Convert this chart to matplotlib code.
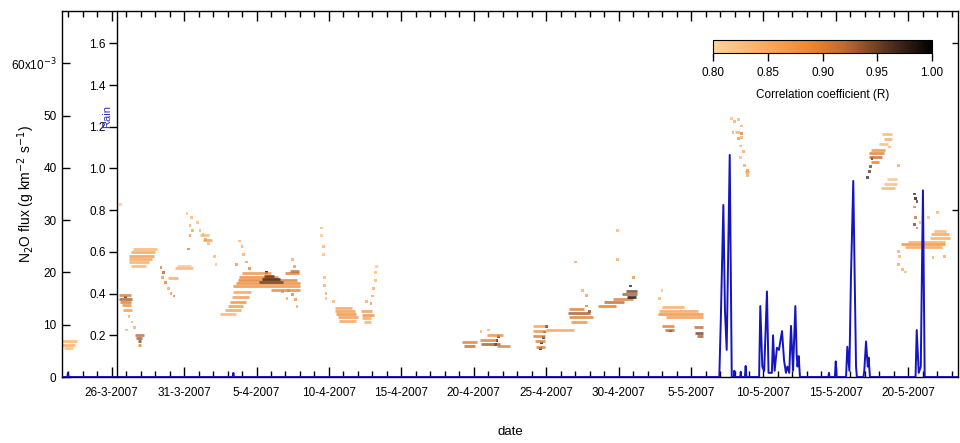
import numpy as np
import pandas as pd
import matplotlib
matplotlib.use('Agg')
import matplotlib.pyplot as plt
import matplotlib.dates as mdates
from matplotlib.collections import LineCollection
from matplotlib.colors import LinearSegmentedColormap, Normalize
from matplotlib.cm import ScalarMappable

plt.rcParams['font.family'] = ['Liberation Sans', 'DejaVu Sans']

# all times are days after 26-3-2007, flux in 1e-3 g km-2 s-1
t0 = pd.Timestamp('2007-03-26')

# horizontal streaks of the flux footprint (start, end, flux, R)
streak_start = [-3.4, -3.4, -3.3,
                0.5, 0.5, 0.6, 0.7, 0.8,
                1.6, 1.7, 1.8, 1.85,
                1.5, 1.3, 1.2, 1.2, 1.2, 1.3,
                3.9, 4.4, 4.5,
                6.1, 6.3,
                7.5, 7.8, 8.0, 8.2, 8.3, 8.4,
                8.4, 8.6, 8.7, 8.8, 9.0,
                10.2, 10.4, 10.5, 12.0, 12.3, 11.0,
                15.4, 15.4, 15.5, 15.6, 15.7,
                17.2, 17.3, 17.3, 17.4,
                24.2, 24.3, 25.4, 25.5, 25.9, 26.6,
                29.1, 29.1, 29.1, 29.2, 29.3, 30.0,
                31.6, 31.5, 31.6, 31.7,
                33.6, 34.0, 34.6, 35.2, 35.5, 35.6,
                37.7, 37.8, 38.0, 38.3, 38.0, 38.2,
                40.2, 40.3, 40.4,
                43.0, 43.7,
                53.2, 53.3, 53.0, 52.4, 52.3, 52.3, 52.4,
                53.1, 53.3, 53.5,
                54.5, 54.8, 55.0, 56.5, 56.6, 56.8]
streak_end = [-2.4, -2.5, -2.7,
              1.3, 1.4, 1.3, 1.3, 1.4,
              2.2, 2.1, 2.05, 2.0,
              3.1, 3.0, 2.9, 2.8, 2.6, 2.4,
              4.6, 5.6, 5.5,
              6.7, 6.9,
              8.6, 8.9, 9.1, 9.3, 9.5, 9.6,
              13.0, 13.0, 12.8, 11.5, 11.0,
              11.8, 11.6, 11.2, 12.9, 12.9, 13.0,
              16.6, 16.8, 16.9, 17.0, 16.9,
              18.0, 18.1, 17.9, 17.9,
              25.2, 25.1, 26.5, 26.8, 27.0, 27.5,
              29.9, 30.0, 29.9, 29.9, 29.9, 31.9,
              32.6, 33.0, 33.2, 32.8,
              34.8, 35.4, 36.0, 36.3, 36.3, 36.2,
              40.8, 40.5, 39.5, 40.8, 38.8, 38.8,
              40.8, 40.8, 40.8,
              43.4, 44.0,
              53.9, 53.9, 53.6, 53.4, 53.3, 53.2, 53.0,
              54.1, 54.2, 54.2,
              57.5, 57.3, 57.5, 57.9, 57.8, 57.6]
streak_flux = [6.8, 6.1, 5.5,
               15.7, 15.0, 14.4, 13.8, 12.8,
               8.0, 7.4, 6.8, 6.2,
               24.5, 23.9, 23.2, 22.6, 21.9, 21.3,
               18.9, 20.8, 21.3,
               27.2, 26.2,
               12.0, 12.8, 13.6, 14.4, 15.3, 16.2,
               17.4, 18.0, 18.6, 19.2, 19.8,
               18.2, 18.8, 19.3, 19.8, 20.3, 16.7,
               13.2, 12.6, 12.0, 11.4, 10.8,
               12.6, 11.9, 11.2, 10.6,
               6.6, 6.0, 7.0, 6.4, 8.0, 6.0,
               9.8, 8.8, 7.8, 6.8, 5.8, 8.9,
               13.0, 12.3, 11.5, 10.5,
               13.6, 14.3, 15.0, 15.8, 16.4, 15.3,
               12.0, 12.7, 13.3, 11.4, 9.8, 9.0,
               9.5, 8.5, 7.8,
               46.9, 39.2,
               46.5, 45.5, 44.6, 43.5, 42.8, 42.0, 41.2,
               36.2, 37.0, 37.8,
               25.4, 24.9, 25.8, 26.6, 27.3, 28.0]
streak_r = [0.84, 0.85, 0.83,
            0.90, 0.93, 0.90, 0.88, 0.87,
            0.92, 0.93, 0.95, 0.90,
            0.84, 0.86, 0.87, 0.86, 0.85, 0.84,
            0.85, 0.84, 0.82,
            0.84, 0.86,
            0.84, 0.86, 0.87, 0.88, 0.87, 0.86,
            0.88, 0.89, 0.90, 0.89, 0.88,
            0.95, 0.97, 0.96, 0.90, 0.92, 0.89,
            0.86, 0.87, 0.88, 0.87, 0.86,
            0.87, 0.88, 0.86, 0.85,
            0.90, 0.92, 0.90, 0.93, 0.88, 0.90,
            0.86, 0.88, 0.90, 0.90, 0.90, 0.86,
            0.90, 0.93, 0.90, 0.88,
            0.90, 0.92, 0.90, 0.93, 0.95, 0.99,
            0.88, 0.86, 0.85, 0.87, 0.90, 0.92,
            0.92, 0.95, 0.93,
            0.85, 0.87,
            0.84, 0.85, 0.83, 0.88, 0.90, 0.92, 0.90,
            0.84, 0.83, 0.82,
            0.88, 0.86, 0.85, 0.85, 0.86, 0.84]

# isolated footprint points (time, flux, R)
dot_t = [0.6, 0.95, 1.2, 1.4, 1.6, 1.0,
         3.4, 3.6, 3.5, 3.7, 3.9, 4.1, 4.3,
         5.2, 5.5, 5.4, 5.6, 5.9, 6.1, 6.3, 6.5, 6.7, 5.4, 5.3, 7.1, 7.2,
         10.7, 12.2, 12.5, 12.7, 12.8, 12.1, 11.8,
         8.8, 9.0, 9.1, 9.3, 8.6, 9.5, 12.5, 12.6,
         14.5, 14.5, 14.6, 14.6, 14.7, 14.7, 14.8, 14.8,
         15.3, 17.9, 18.0, 18.1, 18.2, 18.2, 18.3, 17.6,
         26.5, 26.6, 26.7, 26.0, 25.5,
         29.6, 29.7, 29.8, 29.9, 30.0,
         32.8, 32.5, 33.0, 32.0, 32.8, 34.9, 34.9, 35.8, 36.0,
         38.6, 37.8, 38.0,
         42.8, 43.0, 43.3, 43.5, 42.9, 43.3, 43.5, 43.4, 43.6, 43.4, 43.7, 43.9, 43.9, 43.5,
         52.4, 52.3, 52.2, 52.5, 54.3, 53.7,
         55.4, 55.5, 55.6, 55.4, 55.5, 55.4, 55.6,
         54.3, 54.4, 54.3, 54.6, 54.8, 56.7, 57.5, 56.0, 55.8, 56.4, 57.0]
dot_flux = [33.0, 15.3, 11.5, 10.5, 9.5, 9.0,
            21.0, 20.0, 19.0, 18.0, 17.0, 16.0, 15.5,
            31.3, 30.5, 29.0, 28.0, 29.5, 28.0, 27.2, 26.3, 25.6, 27.0, 24.5, 23.0, 21.5,
            20.0, 16.5, 15.8, 14.8, 13.5, 15.0, 16.4,
            26.0, 25.0, 23.5, 22.0, 21.5, 20.8, 22.5, 21.2,
            28.5, 27.0, 25.0, 23.5, 19.0, 17.5, 16.0, 15.0,
            14.5, 14.0, 15.5, 17.0, 18.5, 20.0, 21.2, 14.5,
            6.2, 7.0, 7.8, 9.0, 8.7,
            5.5, 6.5, 7.5, 8.6, 9.7,
            13.6, 16.5, 12.5, 22.0, 15.6, 28.0, 22.4, 17.4, 19.1,
            8.8, 15.0, 16.5,
            49.5, 48.8, 49.2, 48.0, 46.8, 45.6, 45.8, 44.2, 43.2, 42.0, 40.5, 39.5, 38.5, 46.5,
            40.3, 39.3, 38.2, 41.8, 40.5, 44.0,
            35.0, 34.2, 33.6, 32.5, 30.5, 29.2, 28.5,
            24.0, 23.0, 21.5, 20.5, 20.1, 22.8, 23.0, 21.5, 29.5, 30.5, 31.5]
dot_r = [0.82, 0.97, 0.85, 0.86, 0.85, 0.84,
         0.90, 0.93, 0.88, 0.90, 0.86, 0.88, 0.90,
         0.83, 0.84, 0.85, 0.86, 0.83, 0.84, 0.86, 0.87, 0.84, 0.88, 0.90, 0.84, 0.83,
         1.00, 0.88, 0.90, 0.88, 0.86, 0.86, 0.87,
         0.84, 0.86, 0.85, 0.87, 0.88, 0.90, 0.86, 0.88,
         0.83, 0.82, 0.84, 0.83, 0.84, 0.85, 0.86, 0.84,
         0.84, 0.88, 0.86, 0.85, 0.84, 0.83, 0.82, 0.85,
         1.00, 0.98, 0.97, 0.85, 0.84,
         0.98, 0.99, 0.98, 0.97, 0.96,
         0.90, 0.85, 0.95, 0.86, 0.87, 0.84, 0.85, 0.98, 0.88,
         0.97, 0.84, 0.83,
         0.83, 0.85, 0.84, 0.84, 0.86, 0.88, 0.85, 0.84, 0.86, 0.83, 0.86, 0.88, 0.85, 0.90,
         0.95, 0.96, 0.97, 0.98, 0.85, 0.84,
         0.97, 0.99, 0.96, 0.90, 0.92, 0.95, 0.90,
         0.85, 0.84, 0.86, 0.85, 0.84, 0.85, 0.86, 0.84, 0.84, 0.83, 0.84]

# rain series (time, value)
rain_t = [-3.5, -3.06, -3.02, -2.98, 8.35, 8.4, 8.45,
          41.95, 42.05, 42.23, 42.34, 42.46, 42.67, 42.81,
          42.95, 42.99, 43.03, 43.39, 43.43, 43.47, 43.72, 43.77, 43.82,
          44.70, 44.78, 44.92, 45.05, 45.24, 45.35, 45.58, 45.66, 45.77, 45.93,
          46.07, 46.28, 46.42, 46.55, 46.65, 46.78, 46.90, 47.04, 47.20, 47.29,
          47.35, 47.43, 47.52,
          49.48, 49.52, 49.56, 49.93, 49.99, 50.05,
          50.70, 50.79, 50.93, 51.04, 51.20, 51.30, 51.39, 51.45,
          51.90, 51.96, 52.08, 52.20, 52.26, 52.35,
          55.50, 55.58, 55.72, 55.86, 56.01, 56.13, 58.5]
rain_v = [0, 0, 0.02, 0, 0, 0.02, 0,
          0, 0.26, 0.825, 0.32, 0.13, 1.065, 0,
          0, 0.03, 0, 0, 0.025, 0, 0, 0.053, 0,
          0, 0.34, 0.05, 0.03, 0.41, 0.02, 0.02, 0.2, 0.03, 0.14,
          0.13, 0.22, 0.08, 0.02, 0.05, 0.02, 0.245, 0.03, 0.34, 0.11,
          0.05, 0.10, 0,
          0, 0.02, 0, 0, 0.075, 0,
          0, 0.145, 0.03, 0.48, 0.94, 0.465, 0.05, 0,
          0, 0.03, 0.17, 0.05, 0.093, 0,
          0, 0.225, 0.02, 0.05, 0.895, 0, 0]

xtick_labels = ['26-3-2007', '31-3-2007', '5-4-2007', '10-4-2007', '15-4-2007', '20-4-2007',
                '25-4-2007', '30-4-2007', '5-5-2007', '10-5-2007', '15-5-2007', '20-5-2007']
flux_ticks = [0, 10, 20, 30, 40, 50, 60]
rain_ticks = [0.2, 0.4, 0.6, 0.8, 1.0, 1.2, 1.4, 1.6]
r_ticks = [0.80, 0.85, 0.90, 0.95, 1.00]

cmap = LinearSegmentedColormap.from_list('corr', [(0, '#fdd49c'), (0.28, '#f7a358'), (0.45, '#ec8530'),
                                                  (0.6, '#bd6a32'), (0.8, '#56321e'), (1, '#000000')])
norm = Normalize(0.8, 1.0)

base = mdates.date2num(t0)
fs = 8.5

fig = plt.figure(figsize=(9.6, 4.43), dpi=100)
ax = fig.add_axes([62 / 960, 66 / 443, 896 / 960, 366 / 443])

segs = [[(base + a, f), (base + b, f)] for a, b, f in zip(streak_start, streak_end, streak_flux)]
lc = LineCollection(segs, colors=cmap(norm(np.array(streak_r))), linewidths=2.0, alpha=0.8)
ax.add_collection(lc)
ax.scatter(base + np.array(dot_t), dot_flux, c=dot_r, cmap=cmap, norm=norm, s=4, marker='s',
           linewidths=0, alpha=0.75)

ax.set_xlim(base - 3.43, base + 58.43)
ax.set_ylim(0, 70)
ax.set_yticks(flux_ticks)
ax.set_yticklabels([str(v) for v in flux_ticks[:-1]] + ['60x10$^{-3}$'])
xt = mdates.date2num(pd.to_datetime(xtick_labels, format='%d-%m-%Y'))
ax.set_xticks(xt)
ax.set_xticklabels(xtick_labels)
ax.xaxis.set_minor_locator(mdates.DayLocator())
ax.tick_params(axis='x', which='major', direction='in', top=True, length=7, width=1, pad=7, labelsize=fs)
ax.tick_params(axis='x', which='minor', direction='in', top=True, length=4, width=1)
ax.tick_params(axis='y', direction='in', length=6, width=1, pad=4, labelsize=fs)
for s in ax.spines.values():
    s.set_linewidth(1.0)
ax.set_xlabel('date', fontsize=9.5)
ax.xaxis.set_label_coords(0.5, -0.135)
ax.set_ylabel('N$_2$O flux (g km$^{-2}$ s$^{-1}$)', fontsize=10)
ax.yaxis.set_label_coords(-0.028, 0.5)

# rain on an inner axis
ax_r = ax.twinx()
ax_r.spines['left'].set_position(('axes', 55 / 896))
ax_r.spines['left'].set_visible(True)
ax_r.spines['left'].set_linewidth(1.0)
for s in ['right', 'top', 'bottom']:
    ax_r.spines[s].set_visible(False)
ax_r.yaxis.set_ticks_position('left')
ax_r.plot(base + np.array(rain_t), rain_v, color='#1414c0', lw=1.4)
ax_r.set_ylim(0, 1.755)
ax_r.set_yticks(rain_ticks)
ax_r.set_yticklabels(['%.1f' % v for v in rain_ticks])
ax_r.tick_params(axis='y', direction='out', length=6, width=1, pad=2, labelsize=fs)
sec = ax_r.secondary_yaxis('right')
sec.set_yticks([0.8, 1.6])
sec.tick_params(direction='in', length=4, width=1, labelright=False)
sec.spines['right'].set_visible(False)
fig.text(107 / 960, 1 - 116 / 443, 'Rain', color='#3030c0', rotation=90, ha='center', va='center',
         fontsize=8)

# colour bar
cax = fig.add_axes([713 / 960, 1 - 53 / 443, 219 / 960, 13 / 443])
cb = fig.colorbar(ScalarMappable(norm=norm, cmap=cmap), cax=cax, orientation='horizontal')
cb.set_ticks(r_ticks)
cb.set_ticklabels(['%.2f' % v for v in r_ticks])
cb.outline.set_linewidth(0.8)
cax.tick_params(direction='out', length=6, width=1, labelsize=fs, pad=4)
cb.set_label('Correlation coefficient (R)', fontsize=fs, labelpad=7)

fig.savefig('out.png', dpi=100)
